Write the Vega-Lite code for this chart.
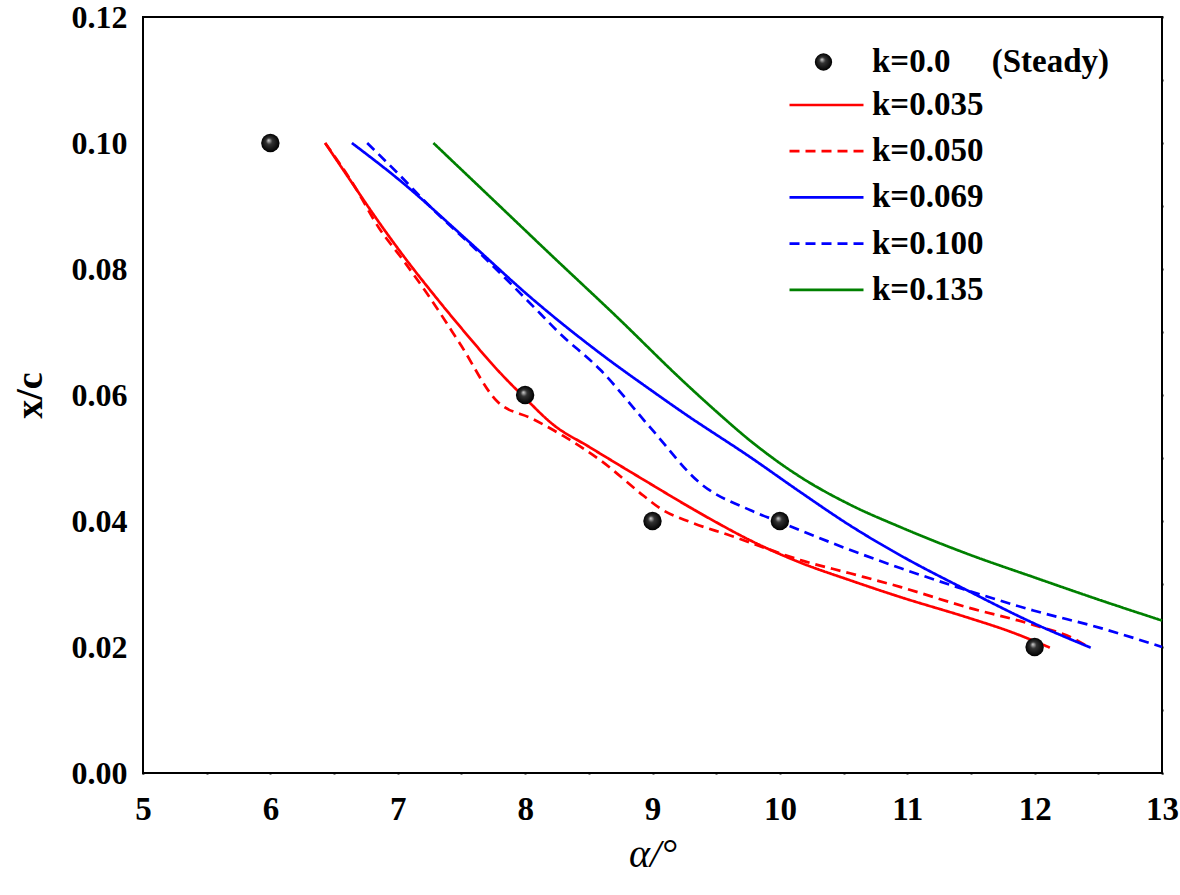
{
  "$schema": "https://vega.github.io/schema/vega-lite/v6.json",
  "width": 1019,
  "height": 756,
  "autosize": {"type": "none"},
  "padding": {"left": 143, "top": 17, "right": 18, "bottom": 122},
  "background": "white",
  "config": {
    "view": {"stroke": "black", "strokeWidth": 2},
    "axis": {
      "domain": false,
      "grid": false,
      "labelFont": "Liberation Serif",
      "labelFontWeight": "bold",
      "labelFontSize": 33,
      "labelColor": "black",
      "labelFlush": false,
      "labelOverlap": false,
      "tickColor": "black",
      "tickWidth": 2,
      "tickSize": 1,
      "titleColor": "black"
    }
  },
  "datasets": {
    "curves": [
      {"alpha": 6.43, "xc": 0.100, "series": "k=0.035"},
      {"alpha": 6.63, "xc": 0.0940, "series": "k=0.035"},
      {"alpha": 6.86, "xc": 0.0872, "series": "k=0.035"},
      {"alpha": 7.04, "xc": 0.0822, "series": "k=0.035"},
      {"alpha": 7.28, "xc": 0.0760, "series": "k=0.035"},
      {"alpha": 7.55, "xc": 0.0694, "series": "k=0.035"},
      {"alpha": 7.80, "xc": 0.0636, "series": "k=0.035"},
      {"alpha": 8.0, "xc": 0.0595, "series": "k=0.035"},
      {"alpha": 8.22, "xc": 0.0553, "series": "k=0.035"},
      {"alpha": 8.5, "xc": 0.0518, "series": "k=0.035"},
      {"alpha": 8.72, "xc": 0.0491, "series": "k=0.035"},
      {"alpha": 9.0, "xc": 0.0457, "series": "k=0.035"},
      {"alpha": 9.24, "xc": 0.0428, "series": "k=0.035"},
      {"alpha": 9.5, "xc": 0.0398, "series": "k=0.035"},
      {"alpha": 9.77, "xc": 0.0369, "series": "k=0.035"},
      {"alpha": 10.16, "xc": 0.0334, "series": "k=0.035"},
      {"alpha": 10.55, "xc": 0.0306, "series": "k=0.035"},
      {"alpha": 10.95, "xc": 0.0279, "series": "k=0.035"},
      {"alpha": 11.47, "xc": 0.0247, "series": "k=0.035"},
      {"alpha": 11.8, "xc": 0.0225, "series": "k=0.035"},
      {"alpha": 12.12, "xc": 0.0199, "series": "k=0.035"},

      {"alpha": 6.43, "xc": 0.100, "series": "k=0.050"},
      {"alpha": 6.65, "xc": 0.0935, "series": "k=0.050"},
      {"alpha": 6.85, "xc": 0.0866, "series": "k=0.050"},
      {"alpha": 7.05, "xc": 0.0812, "series": "k=0.050"},
      {"alpha": 7.23, "xc": 0.0761, "series": "k=0.050"},
      {"alpha": 7.49, "xc": 0.0681, "series": "k=0.050"},
      {"alpha": 7.78, "xc": 0.0590, "series": "k=0.050"},
      {"alpha": 8.06, "xc": 0.0562, "series": "k=0.050"},
      {"alpha": 8.3, "xc": 0.0535, "series": "k=0.050"},
      {"alpha": 8.6, "xc": 0.0495, "series": "k=0.050"},
      {"alpha": 8.93, "xc": 0.0440, "series": "k=0.050"},
      {"alpha": 9.06, "xc": 0.0420, "series": "k=0.050"},
      {"alpha": 9.30, "xc": 0.0398, "series": "k=0.050"},
      {"alpha": 9.61, "xc": 0.0377, "series": "k=0.050"},
      {"alpha": 9.9, "xc": 0.0356, "series": "k=0.050"},
      {"alpha": 10.16, "xc": 0.0338, "series": "k=0.050"},
      {"alpha": 10.55, "xc": 0.0317, "series": "k=0.050"},
      {"alpha": 10.95, "xc": 0.0295, "series": "k=0.050"},
      {"alpha": 11.47, "xc": 0.0263, "series": "k=0.050"},
      {"alpha": 11.99, "xc": 0.0235, "series": "k=0.050"},
      {"alpha": 12.33, "xc": 0.0211, "series": "k=0.050"},
      {"alpha": 12.42, "xc": 0.0200, "series": "k=0.050"},

      {"alpha": 6.64, "xc": 0.100, "series": "k=0.069"},
      {"alpha": 7.02, "xc": 0.0940, "series": "k=0.069"},
      {"alpha": 7.55, "xc": 0.0845, "series": "k=0.069"},
      {"alpha": 8.06, "xc": 0.0752, "series": "k=0.069"},
      {"alpha": 8.59, "xc": 0.0666, "series": "k=0.069"},
      {"alpha": 9.0, "xc": 0.0606, "series": "k=0.069"},
      {"alpha": 9.24, "xc": 0.0572, "series": "k=0.069"},
      {"alpha": 9.77, "xc": 0.0501, "series": "k=0.069"},
      {"alpha": 10.16, "xc": 0.0446, "series": "k=0.069"},
      {"alpha": 10.55, "xc": 0.0393, "series": "k=0.069"},
      {"alpha": 10.95, "xc": 0.0345, "series": "k=0.069"},
      {"alpha": 11.47, "xc": 0.0290, "series": "k=0.069"},
      {"alpha": 11.99, "xc": 0.0238, "series": "k=0.069"},
      {"alpha": 12.44, "xc": 0.0199, "series": "k=0.069"},

      {"alpha": 6.76, "xc": 0.100, "series": "k=0.100"},
      {"alpha": 7.0, "xc": 0.0952, "series": "k=0.100"},
      {"alpha": 7.25, "xc": 0.0900, "series": "k=0.100"},
      {"alpha": 7.65, "xc": 0.0824, "series": "k=0.100"},
      {"alpha": 8.12, "xc": 0.0729, "series": "k=0.100"},
      {"alpha": 8.25, "xc": 0.0702, "series": "k=0.100"},
      {"alpha": 8.59, "xc": 0.0640, "series": "k=0.100"},
      {"alpha": 8.98, "xc": 0.0549, "series": "k=0.100"},
      {"alpha": 9.38, "xc": 0.0459, "series": "k=0.100"},
      {"alpha": 9.77, "xc": 0.0417, "series": "k=0.100"},
      {"alpha": 10.03, "xc": 0.0396, "series": "k=0.100"},
      {"alpha": 10.5, "xc": 0.0358, "series": "k=0.100"},
      {"alpha": 10.95, "xc": 0.0325, "series": "k=0.100"},
      {"alpha": 11.47, "xc": 0.0290, "series": "k=0.100"},
      {"alpha": 11.99, "xc": 0.0258, "series": "k=0.100"},
      {"alpha": 12.52, "xc": 0.0230, "series": "k=0.100"},
      {"alpha": 13.0, "xc": 0.0200, "series": "k=0.100"},

      {"alpha": 7.28, "xc": 0.100, "series": "k=0.135"},
      {"alpha": 7.80, "xc": 0.0900, "series": "k=0.135"},
      {"alpha": 8.2, "xc": 0.0823, "series": "k=0.135"},
      {"alpha": 8.72, "xc": 0.0724, "series": "k=0.135"},
      {"alpha": 9.24, "xc": 0.0622, "series": "k=0.135"},
      {"alpha": 9.5, "xc": 0.0574, "series": "k=0.135"},
      {"alpha": 9.77, "xc": 0.0527, "series": "k=0.135"},
      {"alpha": 10.16, "xc": 0.0470, "series": "k=0.135"},
      {"alpha": 10.55, "xc": 0.0426, "series": "k=0.135"},
      {"alpha": 10.95, "xc": 0.0390, "series": "k=0.135"},
      {"alpha": 11.47, "xc": 0.0348, "series": "k=0.135"},
      {"alpha": 11.99, "xc": 0.0311, "series": "k=0.135"},
      {"alpha": 12.52, "xc": 0.0274, "series": "k=0.135"},
      {"alpha": 13.0, "xc": 0.0242, "series": "k=0.135"}
    ],
    "steady": [
      {"alpha": 6, "xc": 0.10, "label": "k=0.0\u00a0\u00a0\u00a0\u00a0\u00a0(Steady)"},
      {"alpha": 8, "xc": 0.06, "label": "k=0.0\u00a0\u00a0\u00a0\u00a0\u00a0(Steady)"},
      {"alpha": 9, "xc": 0.04, "label": "k=0.0\u00a0\u00a0\u00a0\u00a0\u00a0(Steady)"},
      {"alpha": 10, "xc": 0.04, "label": "k=0.0\u00a0\u00a0\u00a0\u00a0\u00a0(Steady)"},
      {"alpha": 12, "xc": 0.02, "label": "k=0.0\u00a0\u00a0\u00a0\u00a0\u00a0(Steady)"}
    ]
  },
  "layer": [
    {
      "data": {"name": "curves"},
      "mark": {"type": "line", "strokeWidth": 2.7, "interpolate": "monotone"},
      "encoding": {
        "x": {
          "field": "alpha", "type": "quantitative",
          "scale": {"domain": [5, 13], "nice": false, "zero": false},
          "axis": {
            "orient": "bottom",
            "title": "α/°",
            "titleFont": "Liberation Serif",
            "titleFontStyle": "italic",
            "titleFontWeight": "normal",
            "titleFontSize": 40,
            "titlePadding": 8,
            "labelPadding": 19,
            "values": [5, 5.5, 6, 6.5, 7, 7.5, 8, 8.5, 9, 9.5, 10, 10.5, 11, 11.5, 12, 12.5, 13],
            "labelExpr": "datum.value % 1 === 0 ? format(datum.value, 'd') : ''",
            "encode": {"ticks": {"update": {"y2": {"signal": "datum.value % 1 === 0 ? -15 : -8"}}}}
          }
        },
        "y": {
          "field": "xc", "type": "quantitative",
          "scale": {"domain": [0, 0.12], "nice": false, "zero": false},
          "axis": {
            "orient": "left",
            "title": "x/c",
            "titleFont": "Liberation Serif",
            "titleFontWeight": "bold",
            "titleFontSize": 38,
            "titlePadding": 22,
            "labelPadding": 15,
            "labelFontSize": 32,
            "values": [0, 0.01, 0.02, 0.03, 0.04, 0.05, 0.06, 0.07, 0.08, 0.09, 0.10, 0.11, 0.12],
            "labelExpr": "round(datum.value * 100) % 2 === 0 ? format(datum.value, '.2f') : ''",
            "encode": {"ticks": {"update": {"x2": {"signal": "round(datum.value * 100) % 2 === 0 ? 15 : 8"}}}}
          }
        },
        "color": {
          "field": "series", "type": "nominal",
          "scale": {
            "domain": ["k=0.035", "k=0.050", "k=0.069", "k=0.100", "k=0.135"],
            "range": ["#ff0000", "#ff0000", "#0000ff", "#0000ff", "#008000"]
          },
          "legend": {
            "orient": "none",
            "legendX": 645,
            "legendY": 72,
            "title": null,
            "padding": 0,
            "labelFont": "Liberation Serif",
            "labelFontWeight": "bold",
            "labelFontSize": 33,
            "labelColor": "black",
            "labelLimit": 400,
            "labelOffset": 7,
            "symbolType": "stroke",
            "symbolSize": 5476,
            "symbolStrokeWidth": 2.7,
            "clipHeight": 32,
            "rowPadding": 13.2
          }
        },
        "strokeDash": {
          "field": "series", "type": "nominal",
          "scale": {
            "domain": ["k=0.035", "k=0.050", "k=0.069", "k=0.100", "k=0.135"],
            "range": [[1, 0], [10, 6], [1, 0], [10, 6], [1, 0]]
          },
          "legend": {
            "orient": "none",
            "legendX": 645,
            "legendY": 72,
            "title": null,
            "padding": 0,
            "labelFont": "Liberation Serif",
            "labelFontWeight": "bold",
            "labelFontSize": 33,
            "labelColor": "black",
            "labelLimit": 400,
            "labelOffset": 7,
            "symbolType": "stroke",
            "symbolSize": 5476,
            "symbolStrokeWidth": 2.7,
            "clipHeight": 32,
            "rowPadding": 13.2
          }
        }
      }
    },
    {
      "data": {"name": "steady"},
      "mark": {
        "type": "point",
        "filled": true,
        "size": 340,
        "opacity": 1,
        "fill": {
          "gradient": "radial",
          "x1": 0.4, "y1": 0.35, "r1": 0,
          "x2": 0.5, "y2": 0.5, "r2": 0.5,
          "stops": [
            {"offset": 0, "color": "#d8d8d8"},
            {"offset": 0.35, "color": "#333333"},
            {"offset": 1, "color": "#000000"}
          ]
        }
      },
      "encoding": {
        "x": {
          "field": "alpha", "type": "quantitative",
          "axis": {
            "orient": "top",
            "title": null,
            "labels": false,
            "values": [5, 5.5, 6, 6.5, 7, 7.5, 8, 8.5, 9, 9.5, 10, 10.5, 11, 11.5, 12, 12.5, 13],
            "encode": {"ticks": {"update": {"y2": {"signal": "datum.value % 1 === 0 ? 15 : 8"}}}}
          }
        },
        "y": {
          "field": "xc", "type": "quantitative",
          "axis": {
            "orient": "right",
            "title": null,
            "labels": false,
            "values": [0, 0.01, 0.02, 0.03, 0.04, 0.05, 0.06, 0.07, 0.08, 0.09, 0.10, 0.11, 0.12],
            "encode": {"ticks": {"update": {"x2": {"signal": "round(datum.value * 100) % 2 === 0 ? -15 : -8"}}}}
          }
        },
        "shape": {
          "field": "label", "type": "nominal",
          "scale": {"range": ["circle"]},
          "legend": {
            "orient": "none",
            "legendX": 664,
            "legendY": 29,
            "title": null,
            "padding": 0,
            "labelFont": "Liberation Serif",
            "labelFontWeight": "bold",
            "labelFontSize": 33,
            "labelColor": "black",
            "labelLimit": 400,
            "labelOffset": 32,
            "symbolSize": 300,
            "symbolFillColor": "#000000",
            "symbolStrokeColor": "#000000",
            "symbolStrokeWidth": 0,
            "clipHeight": 32
          }
        }
      }
    }
  ],
  "resolve": {"axis": {"x": "independent", "y": "independent"}}
}
